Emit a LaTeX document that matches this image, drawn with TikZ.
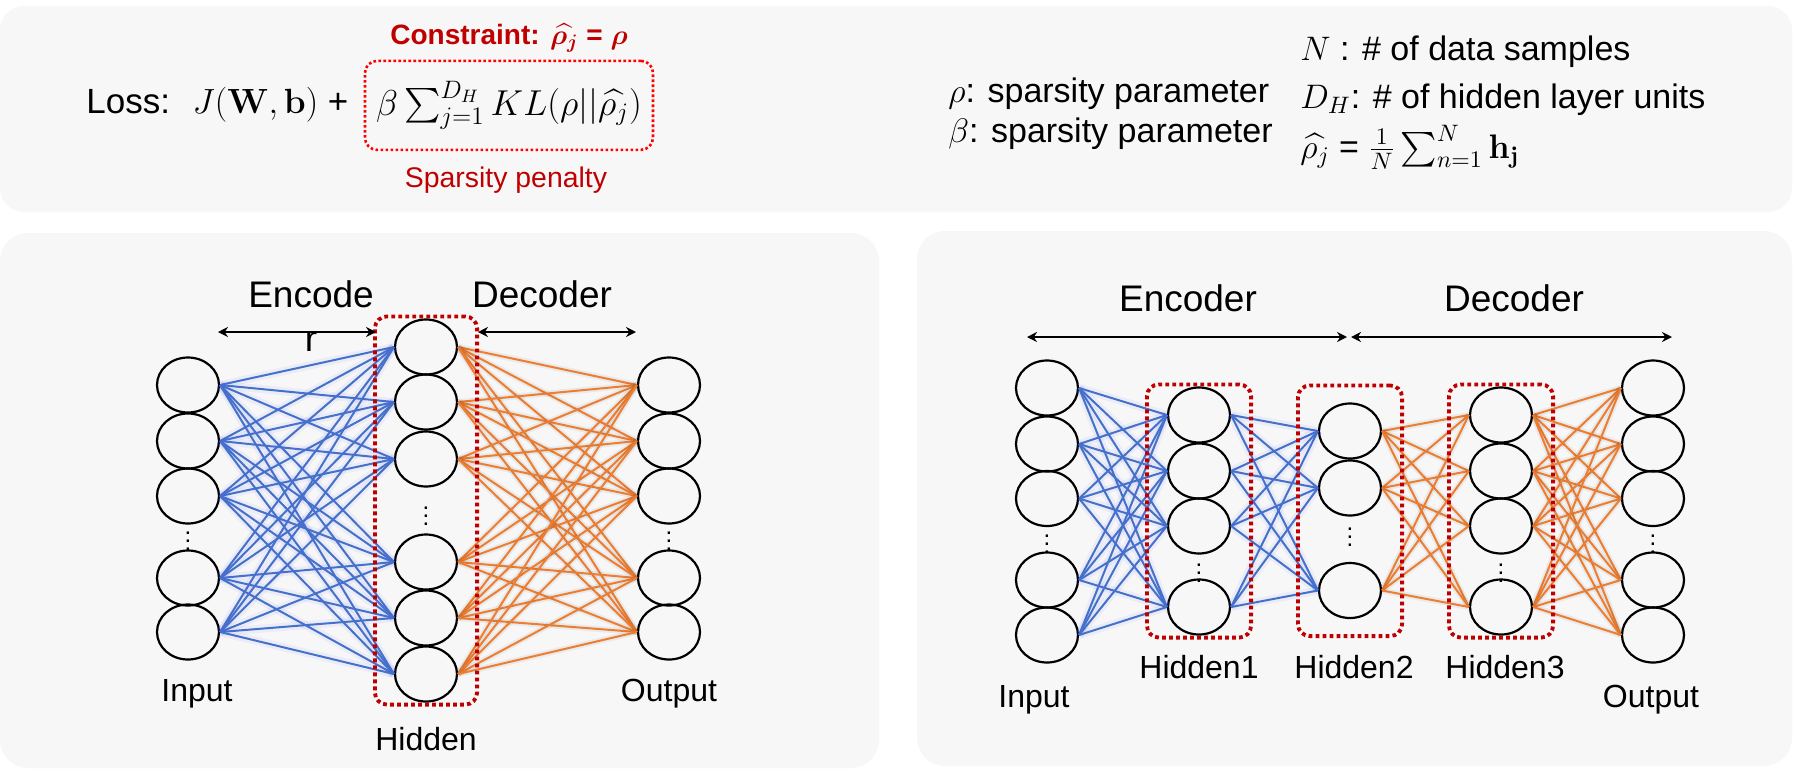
\documentclass[tikz,border=0pt]{standalone}
\usepackage{fix-cm}
\usepackage{amsmath}
\usepackage[no-math]{fontspec}
\setmainfont{Liberation Sans}
\usetikzlibrary{arrows.meta,fit,positioning,shapes.geometric}

\definecolor{encblue}{RGB}{68,114,200}
\definecolor{glowblue}{RGB}{90,95,255}
\definecolor{decorange}{RGB}{237,125,49}
\definecolor{boxred}{RGB}{192,0,0}
\definecolor{brightred}{RGB}{255,0,0}
\definecolor{panelgray}{RGB}{247,247,247}

\begin{document}
\begin{tikzpicture}[x=0.5pt, y=-0.5pt, >={Stealth[length=5pt,width=5pt]},
    unit/.style={ellipse, draw, line width=1.1pt, minimum width=31pt, minimum height=27.5pt, inner sep=0pt},
    encedge/.style={encblue, line width=1pt, preaction={draw=glowblue, line width=4pt, draw opacity=0.07}},
    decedge/.style={decorange, line width=1pt, preaction={draw, line width=3pt, draw opacity=0.05}},
    hidbox/.style={draw=boxred, line width=1.9pt, dash pattern=on 1.9pt off 1.6pt, rounded corners=6pt},
    span/.style={<->, line width=1pt},
    netlabel/.style={inner sep=0pt, font=\fontsize{16}{19}\selectfont},
    partlabel/.style={inner sep=0pt, align=center, font=\fontsize{18.5}{22}\selectfont},
    note/.style={inner sep=0pt, font=\fontsize{17}{20}\selectfont},
    dots/.style={inner sep=0pt, font=\fontsize{12}{14}\selectfont}]

    % CANVAS AND PANELS
    \useasboundingbox[fill=white] (0,0) rectangle (1795,778);
    \fill[panelgray, rounded corners=12pt] (0,6) rectangle (1792,212);
    \fill[panelgray, rounded corners=14pt] (0,233) rectangle (879,768);
    \fill[panelgray, rounded corners=14pt] (917,231) rectangle (1792,766);

    % LOSS FORMULA
    \node[draw=brightred, line width=1.3pt, dash pattern=on 1.3pt off 1.2pt, rounded corners=6pt,
          minimum width=144pt, minimum height=44.5pt, inner sep=0pt, anchor=base,
          font=\fontsize{18}{21}\selectfont]
        (penalty) at (509,115)
        {$\beta\sum_{j=1}^{D_H} KL(\rho||\widehat{\rho_j})$};
    \node[inner sep=0pt, anchor=base west, font=\fontsize{17.5}{21}\selectfont]
        (loss) at (86,113)
        {Loss: \ $J(\mathbf{W},\mathbf{b})$ +};
    \node[inner sep=0pt, text=boxred, font=\fontsize{14}{17}\selectfont\bfseries]
        (constraint) at (509,38)
        {Constraint: $\boldsymbol{\widehat{\rho_j}}$ = $\boldsymbol{\rho}$};
    \node[inner sep=0pt, text=boxred, font=\fontsize{14.2}{17}\selectfont]
        (sparsity) at (506,180)
        {Sparsity penalty};

    % PARAMETER NOTES
    \node[note, anchor=base west] (rho) at (948,102) {$\rho$: sparsity parameter};
    \node[note, anchor=base west] (beta) at (948,142) {$\beta$: sparsity parameter};
    \node[note, anchor=base west] (nsamp) at (1300,60) {$N$ : \# of data samples};
    \node[note, anchor=base west] (dunits) at (1300,108) {$D_H$: \# of hidden layer units};
    \node[note, anchor=base west] (rhomean) at (1300,158)
        {$\widehat{\rho_j}$ = $\frac{1}{N}\sum_{n=1}^{N}\mathbf{h}_\mathbf{j}$};

    % LEFT NETWORK: SPARSE AUTOENCODER
    \foreach \y [count=\i from 0] in {385,441,496,578,632}
        \node[unit] (in\i) at (188,\y) {};
    \foreach \y [count=\i from 0] in {347,402,459,562,618,674}
        \node[unit] (hid\i) at (426,\y) {};
    \foreach \y [count=\i from 0] in {385,441,496,578,632}
        \node[unit] (out\i) at (669,\y) {};
    \node[dots] (indots) at (188,535) {$\vdots$};
    \node[dots] (hiddots) at (426,510) {$\vdots$};
    \node[dots] (outdots) at (669,535) {$\vdots$};

    \foreach \i in {0,...,4}
        \foreach \j in {0,...,5}
            \draw[encedge] (in\i.east) -- (hid\j.west);
    \foreach \i in {0,...,5}
        \foreach \j in {0,...,4}
            \draw[decedge] (hid\i.east) -- (out\j.west);

    \node[hidbox, fit=(hid0)(hid5), inner xsep=9.5pt, inner ysep=1pt] (hidframe) {};

    \coordinate (encL) at (218,332);
    \coordinate (encR) at (376,332);
    \coordinate (decL) at (478,332);
    \coordinate (decR) at (636,332);
    \draw[span] (encL) -- (encR);
    \draw[span] (decL) -- (decR);

    \node[partlabel, anchor=north] (enclabel) at (311,280) {Encode\\r};
    \node[partlabel, anchor=base] (declabel) at (542,307) {Decoder};
    \node[netlabel, anchor=base] (inlabel) at (197,701) {Input};
    \node[netlabel, anchor=base] (outlabel) at (669,701) {Output};
    \node[netlabel, anchor=base] (hidlabel) at (426,750) {Hidden};

    % RIGHT NETWORK: STACKED AUTOENCODER
    \foreach \y [count=\i from 0] in {388,444,498.5,580,635}
        \node[unit] (rin\i) at (1047,\y) {};
    \foreach \y [count=\i from 0] in {415,471,526,607}
        \node[unit] (ha\i) at (1199,\y) {};
    \foreach \y [count=\i from 0] in {431,488,590.5}
        \node[unit] (hb\i) at (1350,\y) {};
    \foreach \y [count=\i from 0] in {415,471,526,607}
        \node[unit] (hc\i) at (1501,\y) {};
    \foreach \y [count=\i from 0] in {388,444,498.5,580,635}
        \node[unit] (rout\i) at (1653,\y) {};
    \node[dots] (rindots) at (1047,538.5) {$\vdots$};
    \node[dots] (hadots) at (1199,567) {$\vdots$};
    \node[dots] (hbdots) at (1350,531.5) {$\vdots$};
    \node[dots] (hcdots) at (1501,567) {$\vdots$};
    \node[dots] (routdots) at (1653,538.5) {$\vdots$};

    \foreach \i in {0,...,4}
        \foreach \j in {0,...,3}
            \draw[encedge] (rin\i.east) -- (ha\j.west);
    \foreach \i in {0,...,3}
        \foreach \j in {0,...,2}
            \draw[encedge] (ha\i.east) -- (hb\j.west);
    \foreach \i in {0,...,2}
        \foreach \j in {0,...,3}
            \draw[decedge] (hb\i.east) -- (hc\j.west);
    \foreach \i in {0,...,3}
        \foreach \j in {0,...,4}
            \draw[decedge] (hc\i.east) -- (rout\j.west);

    \node[hidbox, fit=(ha0)(ha3), inner xsep=10pt, inner ysep=1pt] (haframe) {};
    \node[hidbox, fit=(hb0)(hb2), inner xsep=10pt, inner ysep=8.5pt] (hbframe) {};
    \node[hidbox, fit=(hc0)(hc3), inner xsep=10pt, inner ysep=1pt] (hcframe) {};

    \coordinate (rencL) at (1027,337);
    \coordinate (rencR) at (1347,337);
    \coordinate (rdecL) at (1351,337);
    \coordinate (rdecR) at (1672,337);
    \draw[span] (rencL) -- (rencR);
    \draw[span] (rdecL) -- (rdecR);

    \node[partlabel, anchor=base] (renclabel) at (1188,311) {Encoder};
    \node[partlabel, anchor=base] (rdeclabel) at (1514,311) {Decoder};
    \node[netlabel, anchor=base] (rinlabel) at (1034,707) {Input};
    \node[netlabel, anchor=base] (h1label) at (1199,678) {Hidden1};
    \node[netlabel, anchor=base] (h2label) at (1354,678) {Hidden2};
    \node[netlabel, anchor=base] (h3label) at (1505,678) {Hidden3};
    \node[netlabel, anchor=base] (routlabel) at (1651,707) {Output};

\end{tikzpicture}
\end{document}
